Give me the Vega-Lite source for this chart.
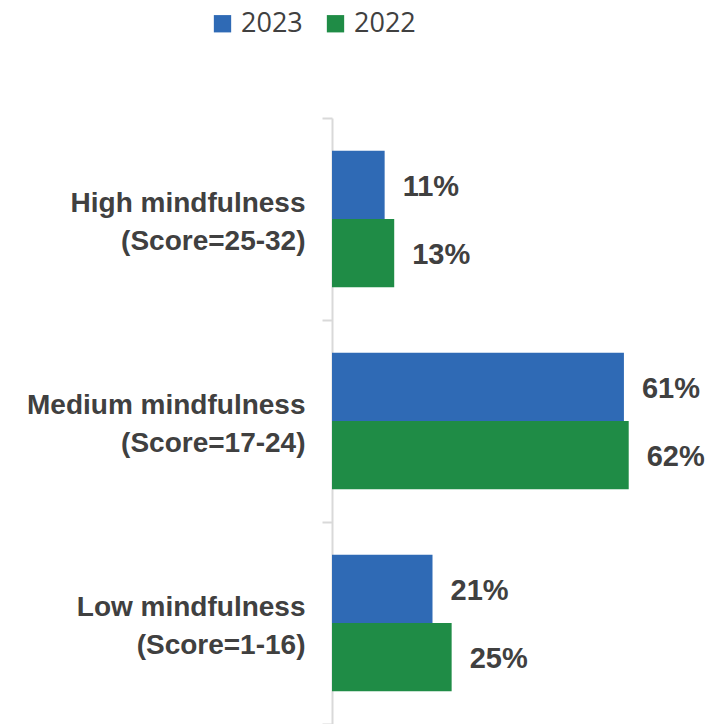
{
  "$schema": "https://vega.github.io/schema/vega-lite/v6.json",
  "width": 335,
  "height": 606,
  "autosize": {"type": "none"},
  "padding": {"left": 332, "top": 118, "right": 44, "bottom": 0},
  "background": "white",
  "config": {"view": {"stroke": null}},
  "data": {
    "values": [
      {"category": "High mindfulness|(Score=25-32)", "year": "2023", "value": 0.11},
      {"category": "High mindfulness|(Score=25-32)", "year": "2022", "value": 0.13},
      {"category": "Medium mindfulness|(Score=17-24)", "year": "2023", "value": 0.61},
      {"category": "Medium mindfulness|(Score=17-24)", "year": "2022", "value": 0.62},
      {"category": "Low mindfulness|(Score=1-16)", "year": "2023", "value": 0.21},
      {"category": "Low mindfulness|(Score=1-16)", "year": "2022", "value": 0.25}
    ]
  },
  "encoding": {
    "y": {
      "field": "category",
      "type": "nominal",
      "sort": ["High mindfulness|(Score=25-32)", "Medium mindfulness|(Score=17-24)", "Low mindfulness|(Score=1-16)"],
      "title": null,
      "scale": {"paddingInner": 0, "paddingOuter": 0},
      "axis": {
        "labelExpr": "datum.value ? split(datum.value, '|') : ''",
        "domainColor": "#d9d9d9",
        "domainWidth": 2,
        "tickColor": "#d9d9d9",
        "tickWidth": 2,
        "tickSize": 10,
        "tickBand": "extent",
        "labelFont": "Liberation Sans",
        "labelFontSize": 28,
        "labelFontWeight": "bold",
        "labelColor": "#404040",
        "labelPadding": 17,
        "labelLineHeight": 38,
        "labelOffset": -16,
        "labelAlign": "right",
        "labelBaseline": "middle",
        "labelLimit": 400
      }
    },
    "yOffset": {
      "field": "year",
      "type": "nominal",
      "sort": ["2023", "2022"],
      "scale": {"paddingInner": 0, "paddingOuter": 0.48}
    },
    "x": {
      "field": "value",
      "type": "quantitative",
      "scale": {"domain": [0, 0.7]},
      "axis": null
    }
  },
  "layer": [
    {
      "mark": {"type": "bar"},
      "encoding": {
        "color": {
          "field": "year",
          "type": "nominal",
          "scale": {"domain": ["2023", "2022"], "range": ["#2f6ab5", "#1f8c46"]},
          "legend": {
            "orient": "none",
            "legendX": -123,
            "legendY": -108,
            "direction": "horizontal",
            "title": null,
            "symbolType": "square",
            "symbolSize": 300,
            "symbolStrokeWidth": 0,
            "symbolOpacity": 1,
            "labelFont": "Open Sans",
            "labelFontSize": 27,
            "labelColor": "#404040",
            "labelOffset": 5,
            "columnPadding": 19
          }
        }
      }
    },
    {
      "mark": {
        "type": "text",
        "align": "left",
        "baseline": "middle",
        "dx": 18,
        "dy": 2,
        "font": "Liberation Sans",
        "fontSize": 29,
        "fontWeight": "bold",
        "color": "#404040"
      },
      "encoding": {
        "text": {"field": "value", "type": "quantitative", "format": ".0%"}
      }
    }
  ]
}
